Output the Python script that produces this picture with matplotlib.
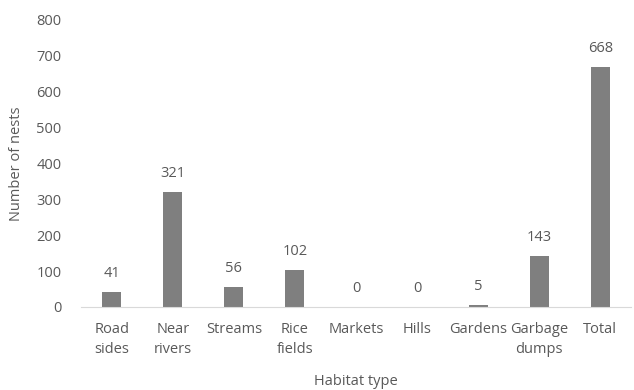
import matplotlib
matplotlib.use("Agg")
import matplotlib.pyplot as plt

categories = ["Road\nsides", "Near\nrivers", "Streams", "Rice\nfields", "Markets",
              "Hills", "Gardens", "Garbage\ndumps", "Total"]
nests = [41, 321, 56, 102, 0, 0, 5, 143, 668]
yticks = [0, 100, 200, 300, 400, 500, 600, 700, 800]

plt.rcParams['font.family'] = ['Open Sans', 'DejaVu Sans']
text_color = '#595959'
fs = 10.5

fig = plt.figure(figsize=(6.34, 3.9), dpi=100)
ax = fig.add_axes([0.128, 0.213, 0.867, 0.736])

x = list(range(len(categories)))
bars = ax.bar(x, nests, width=0.31, color='#7f7f7f')
for xi, v in zip(x, nests):
    ax.annotate(str(v), (xi, v), xytext=(0, 8), textcoords='offset points',
                ha='center', va='bottom', fontsize=fs, color=text_color)

ax.set_xlim(-0.5, len(categories) - 0.5)
ax.set_ylim(0, 800)
ax.set_yticks(yticks)
ax.set_xticks(x)
ax.set_xticklabels(categories, fontsize=fs, color=text_color, linespacing=1.45)
ax.tick_params(axis='y', labelsize=fs, labelcolor=text_color, length=0, pad=14)
ax.tick_params(axis='x', length=0, pad=11)

for side in ['top', 'right', 'left']:
    ax.spines[side].set_visible(False)
ax.spines['bottom'].set_color('#d9d9d9')

ax.set_ylabel('Number of nests', fontsize=fs, color=text_color, labelpad=9)
ax.set_xlabel('Habitat type', fontsize=fs, color=text_color, labelpad=12)

fig.savefig('out.png', dpi=100)
